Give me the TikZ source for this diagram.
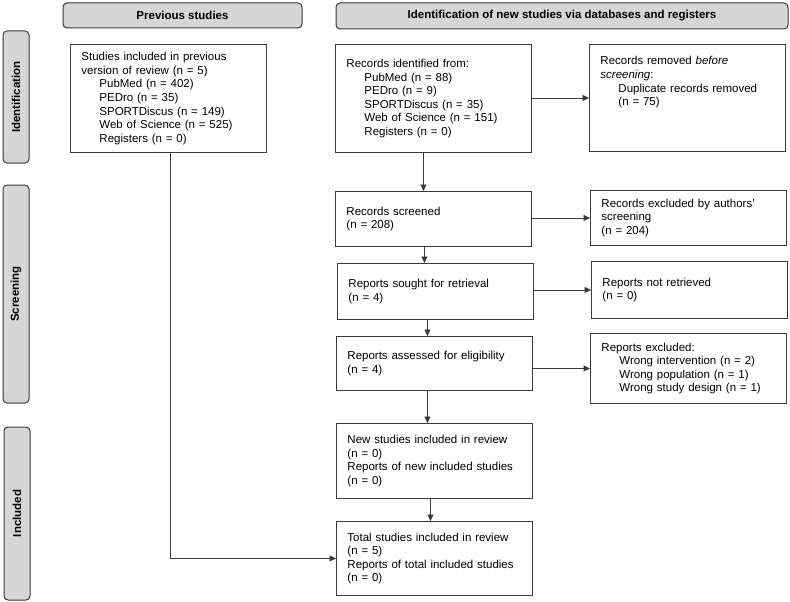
\documentclass[tikz,border=0pt]{standalone}
\usepackage{fontspec}
\setmainfont{Liberation Sans}
\usetikzlibrary{arrows.meta}
\definecolor{linegray}{HTML}{3A3A3A}
\definecolor{hdrfill}{HTML}{D6D6D6}
\definecolor{hdrline}{HTML}{383838}
\newcommand{\ind}{\hspace*{18pt}}
\begin{document}
\begin{tikzpicture}[x=1pt, y=-1pt,
  every node/.style={font=\fontsize{11.5}{13.6}\selectfont},
  hdr/.style={draw=hdrline, fill=hdrfill, line width=1pt, rounded corners=4pt, inner sep=0pt, font=\fontsize{11.5}{13.6}\selectfont\bfseries},
  side/.style={hdr, rotate=90, minimum height=26pt},
  box/.style={draw=linegray, line width=0.9pt, anchor=north west, align=left, text width=174pt, inner xsep=11pt, inner ysep=4pt},
  arr/.style={draw=linegray, line width=0.9pt, -{Triangle[length=6.5pt,width=6pt]}}]
  \useasboundingbox (0,0) rectangle (790,602);
  \node[hdr, minimum width=239pt, minimum height=25pt] (prevhdr) at (182.5,15.5) {Previous studies};
  \node[hdr, minimum width=452pt, minimum height=26pt] (newhdr) at (562,16) {Identification of new studies via databases and registers};
  \node[side, minimum width=132pt] (ident) at (16,97) {Identification};
  \node[side, minimum width=218pt] (screen) at (16,294) {Screening};
  \node[side, minimum width=173pt] (incl) at (17,513.5) {Included};
  \node[box, minimum height=108pt] (prev) at (70,44) {Studies included in previous\\version of review (n = 5)\\\ind PubMed (n = 402)\\\ind PEDro (n = 35)\\\ind SPORTDiscus (n = 149)\\\ind Web of Science (n = 525)\\\ind Registers (n = 0)};
  \node[box, minimum height=108pt] (recid) at (335,44) {Records identified from:\\\ind PubMed (n = 88)\\\ind PEDro (n = 9)\\\ind SPORTDiscus (n = 35)\\\ind Web of Science (n = 151)\\\ind Registers (n = 0)};
  \node[box, text height=9pt, text depth=75pt, inner ysep=11.5pt] (removed) at (589,44) {Records removed \textit{before}\\\textit{screening}:\\\ind Duplicate records removed\\\ind (n = 75)};
  \node[box, minimum height=55pt] (screened) at (335,191) {Records screened\\(n = 208)};
  \node[box, minimum height=55pt] (excl) at (590,190) {Records excluded by authors'\\screening\\(n = 204)};
  \node[box, minimum height=56pt] (sought) at (337,263) {Reports sought for retrieval\\(n = 4)};
  \node[box, minimum height=57pt] (notret) at (591,261) {Reports not retrieved\\(n = 0)};
  \node[box, minimum height=54pt] (assessed) at (336,336) {Reports assessed for eligibility\\(n = 4)};
  \node[box, minimum height=70pt] (repexcl) at (590,333) {Reports excluded:\\\ind Wrong intervention (n = 2)\\\ind Wrong population (n = 1)\\\ind Wrong study design (n = 1)};
  \node[box, minimum height=75pt] (newst) at (336,423) {New studies included in review\\(n = 0)\\Reports of new included studies\\(n = 0)};
  \node[box, minimum height=74pt] (total) at (336,521) {Total studies included in review\\(n = 5)\\Reports of total included studies\\(n = 0)};
  \draw[arr] ([xshift=-10pt]recid.south) -- ([xshift=-10pt]recid.south |- screened.north);
  \draw[arr] ([xshift=-9pt]screened.south) -- ([xshift=-9pt]screened.south |- sought.north);
  \draw[arr] ([xshift=-8pt]sought.south) -- ([xshift=-8pt]sought.south |- assessed.north);
  \draw[arr] ([xshift=-7pt]assessed.south) -- ([xshift=-7pt]assessed.south |- newst.north);
  \draw[arr] ([xshift=-4pt]newst.south) -- ([xshift=-4pt]newst.south |- total.north);
  \draw[arr] (recid.east |- removed.west) -- (removed.west);
  \draw[arr] (screened.east |- excl.west) -- (excl.west);
  \draw[arr] (sought.east |- notret.west) -- (notret.west);
  \draw[arr] (assessed.east |- repexcl.west) -- (repexcl.west);
  \draw[arr] ([xshift=2pt]prev.south) |- (total.west);
\end{tikzpicture}
\end{document}
